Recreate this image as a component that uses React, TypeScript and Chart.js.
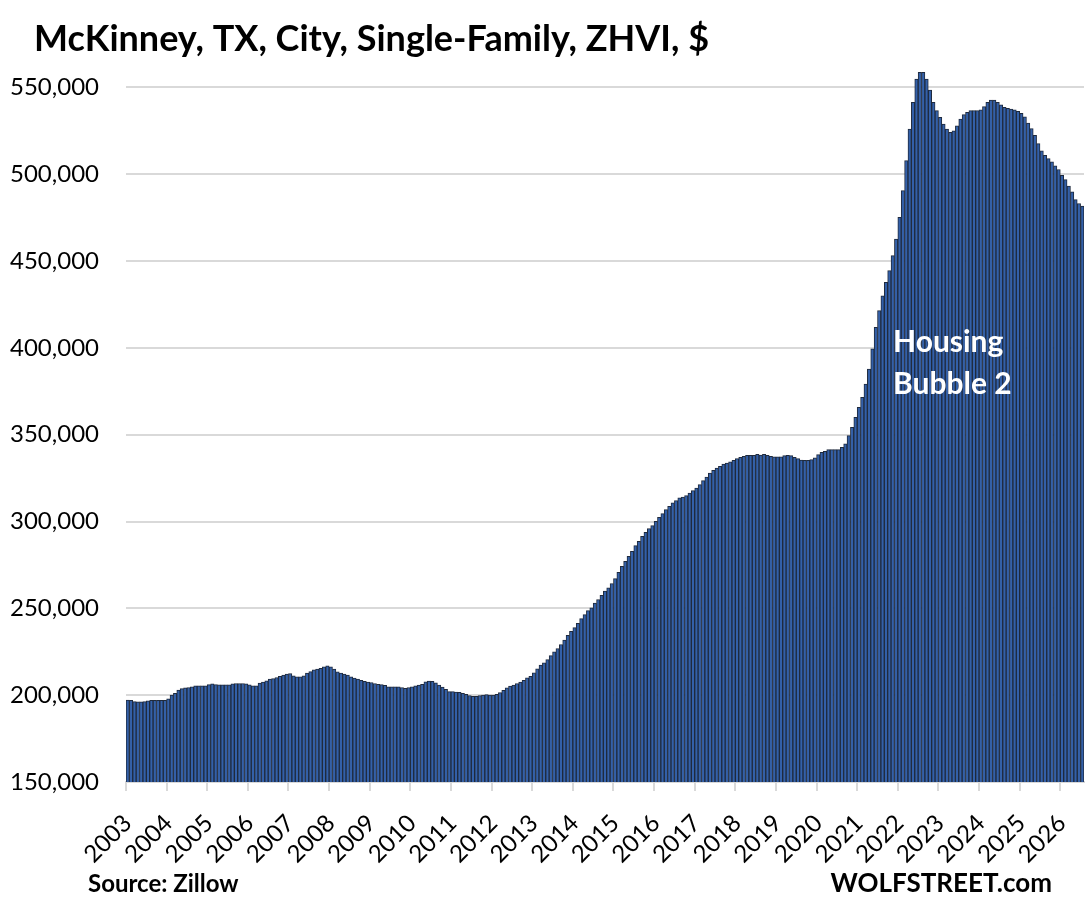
import { useEffect, useRef } from "react";
import { Chart, registerables } from "chart.js";

Chart.register(...registerables);

const chartTitle = "McKinney, TX, City, Single-Family, ZHVI, $";
const sourceText = "Source: Zillow";
const brandText = "WOLFSTREET.com";
const annotationLines = ["Housing", "Bubble 2"];

const yearLabels = [
  "2003", "2004", "2005", "2006", "2007", "2008", "2009", "2010",
  "2011", "2012", "2013", "2014", "2015", "2016", "2017", "2018",
  "2019", "2020", "2021", "2022", "2023", "2024", "2025", "2026",
];
const monthNames = ["Jan", "Feb", "Mar", "Apr", "May", "Jun", "Jul", "Aug", "Sep", "Oct", "Nov", "Dec"];

const yTickValues = [150000, 200000, 250000, 300000, 350000, 400000, 450000, 500000, 550000];

// Monthly ZHVI, $
const zhvi2003 = [197200, 197000, 196300, 196200, 196200, 196300, 196800, 197000, 197000, 197000, 197000, 197000];
const zhvi2004 = [197900, 200000, 201100, 203000, 203800, 204200, 204400, 204800, 205400, 205400, 205400, 205400];
const zhvi2005 = [206100, 206500, 206100, 205900, 205900, 205900, 205900, 206500, 206700, 206700, 206700, 206500];
const zhvi2006 = [205900, 205400, 205400, 206900, 207600, 208200, 209200, 209600, 210200, 210800, 211500, 212100];
const zhvi2007 = [212500, 211200, 210600, 210600, 211200, 212700, 213600, 214600, 215000, 215500, 216300, 216900];
const zhvi2008 = [216300, 215000, 213400, 212700, 212100, 211500, 210600, 209800, 209200, 208600, 207900, 207600];
const zhvi2009 = [207300, 206700, 206300, 206100, 205700, 204800, 204800, 204800, 204800, 204400, 204000, 204400];
const zhvi2010 = [204800, 205400, 205800, 206300, 207700, 208100, 207900, 207100, 205800, 204600, 203300, 202000];
const zhvi2011 = [202000, 201800, 201600, 201100, 200500, 199800, 199400, 199400, 199800, 200000, 200300, 200000];
const zhvi2012 = [200000, 200500, 201500, 202800, 204200, 205200, 205800, 206700, 207500, 208600, 210000, 210900];
const zhvi2013 = [212900, 215200, 217300, 218600, 220500, 222800, 224900, 226900, 229200, 231700, 234400, 236800];
const zhvi2014 = [238900, 241400, 244100, 246400, 248700, 250300, 253100, 255100, 257500, 259900, 261800, 264300];
const zhvi2015 = [267100, 270800, 274200, 277100, 280000, 282900, 286100, 288600, 291500, 293800, 295900, 297600];
const zhvi2016 = [300100, 302400, 304500, 306800, 308800, 310700, 312000, 313600, 314100, 314900, 316400, 317800];
const zhvi2017 = [319300, 321200, 323500, 325600, 327900, 329500, 330800, 331800, 333100, 333700, 334300, 335200];
const zhvi2018 = [336200, 336900, 337500, 338100, 338100, 338100, 338700, 338300, 338700, 338100, 337500, 337300];
const zhvi2019 = [337300, 337300, 337900, 338100, 337900, 336900, 336200, 335400, 335200, 335200, 335600, 336600];
const zhvi2020 = [338500, 339800, 340400, 341400, 341400, 341400, 341400, 342700, 344700, 349500, 354300, 360000];
const zhvi2021 = [365800, 371500, 379200, 387800, 399400, 411800, 421400, 430000, 437700, 444500, 453100, 462700];
const zhvi2022 = [475200, 490500, 507800, 526000, 541400, 554800, 558600, 558600, 554800, 548500, 541400, 536600];
const zhvi2023 = [532700, 528900, 526000, 524100, 525000, 527900, 531800, 534300, 535600, 536600, 536600, 536600];
const zhvi2024 = [537000, 538900, 541400, 542700, 542700, 541400, 540000, 538500, 537900, 537500, 537000, 536200];
const zhvi2025 = [535000, 533100, 529500, 526300, 522400, 517600, 513400, 510900, 509000, 507100, 504800, 502700];
const zhvi2026 = [499400, 496900, 493100, 489800, 485400, 483100, 481600];

const yearSeries = [
  zhvi2003, zhvi2004, zhvi2005, zhvi2006, zhvi2007, zhvi2008, zhvi2009, zhvi2010,
  zhvi2011, zhvi2012, zhvi2013, zhvi2014, zhvi2015, zhvi2016, zhvi2017, zhvi2018,
  zhvi2019, zhvi2020, zhvi2021, zhvi2022, zhvi2023, zhvi2024, zhvi2025, zhvi2026,
];

const textPlugin = {
  id: "wolfText",
  afterDraw(chart: any) {
    const ctx = chart.ctx as CanvasRenderingContext2D;
    const area = chart.chartArea;
    ctx.save();
    ctx.textBaseline = "alphabetic";
    ctx.textAlign = "left";
    ctx.fillStyle = "#000000";
    ctx.font = "bold 36px Lato";
    ctx.fillText(chartTitle, 34, 51);
    ctx.font = "bold 24px Lato";
    ctx.fillText(sourceText, 88, 892);
    ctx.font = "bold 26px Lato";
    ctx.textAlign = "right";
    ctx.fillText(brandText, 1052, 892);
    ctx.textAlign = "left";
    ctx.fillStyle = "#FFFFFF";
    ctx.font = "bold 30px Lato";
    ctx.fillText(annotationLines[0], area.left + 767, 352);
    ctx.fillText(annotationLines[1], area.left + 767, 394);
    ctx.restore();
  },
};

export default function App() {
  const ref = useRef<HTMLCanvasElement>(null);

  useEffect(() => {
    document.body.style.margin = "0";
    const values = yearSeries.flat();
    const categories = yearSeries.flatMap((arr, yi) => arr.map((_, mi) => `${monthNames[mi]} ${yearLabels[yi]}`));
    const chart = new Chart(ref.current!, {
      type: "bar",
      data: {
        labels: categories,
        datasets: [
          {
            data: values,
            backgroundColor: "#3360A9",
            borderColor: "#1F2A3D",
            borderWidth: 1,
            categoryPercentage: 1,
            barPercentage: 1,
          },
        ],
      },
      options: {
        responsive: false,
        animation: false,
        layout: { padding: { left: 0, right: 2, top: 70, bottom: 0 } },
        plugins: { legend: { display: false }, tooltip: { enabled: false } },
        scales: {
          x: {
            grid: {
              offset: true,
              drawOnChartArea: false,
              drawTicks: true,
              tickLength: 9,
              lineWidth: 2,
              color: (c: any) => (c.index % 12 === 0 ? "#D9D9D9" : "rgba(0,0,0,0)"),
            },
            border: { display: true, color: "#D9D9D9", width: 2 },
            ticks: {
              autoSkip: false,
              maxRotation: 45,
              minRotation: 45,
              padding: 18,
              color: "#000000",
              font: { family: "Lato", size: 24 },
              callback: (_v: any, i: number) => (i % 12 === 0 ? yearLabels[i / 12] : ""),
            },
            afterFit: (s: any) => {
              s.height = 118;
              s.paddingLeft = 0;
              s.paddingRight = 0;
            },
          },
          y: {
            min: 150000,
            max: 560000,
            afterBuildTicks: (s: any) => {
              s.ticks = yTickValues.map((v) => ({ value: v }));
            },
            grid: { color: "#D9D9D9", lineWidth: 2, drawTicks: false },
            border: { display: false },
            ticks: {
              padding: 27,
              color: "#000000",
              font: { family: "Lato", size: 24 },
              callback: (v: any) => Number(v).toLocaleString("en-US"),
            },
            afterFit: (s: any) => {
              s.width = 126;
            },
          },
        },
      },
      plugins: [textPlugin],
    });
    return () => chart.destroy();
  }, []);

  return (
    <div style={{ width: 1086, height: 900 }}>
      <canvas ref={ref} width={1086} height={900} style={{ display: "block", width: 1086, height: 900 }} />
    </div>
  );
}
